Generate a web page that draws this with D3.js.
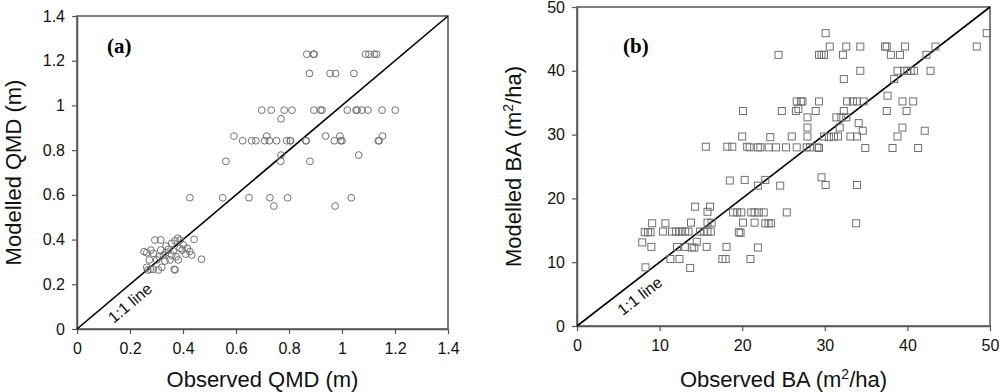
<!DOCTYPE html>
<html>
<head>
<meta charset="utf-8">
<script src="https://cdn.jsdelivr.net/npm/d3@7"></script>
<style>
  body { margin: 0; background: #fff; }
  text { font-family: "Liberation Sans", Arial, sans-serif; }
</style>
</head>
<body>
<div id="chart"></div>
<script>
// panel (a): observed vs modelled QMD (m)
const qmdTicks = [0, 0.2, 0.4, 0.6, 0.8, 1, 1.2, 1.4];
const qmdObserved = [
  0.867, 0.892, 0.895, 1.089, 1.102, 1.122, 1.131,
  0.877, 0.955, 0.976, 1.045,
  0.697, 0.733, 0.782, 0.811, 0.894, 0.919, 0.925, 1.02, 1.053, 1.057, 1.075, 1.098, 1.151, 1.201,
  0.770,
  0.592, 0.716, 0.938, 0.992, 1.153,
  0.625, 0.659, 0.675, 0.708, 0.726, 0.753, 0.791, 0.804, 0.806, 0.863, 0.865, 0.971, 0.995, 1.0, 1.137, 1.14,
  0.770, 1.063,
  0.562, 0.769, 0.879,
  0.426, 0.55, 0.649, 0.728, 0.795, 1.035,
  0.743, 0.974,
  0.263, 0.279, 0.273, 0.263, 0.267, 0.294, 0.316, 0.301, 0.316, 0.32, 0.326, 0.335, 0.351, 0.357,
  0.367, 0.363, 0.374, 0.382, 0.389, 0.397, 0.401, 0.41, 0.426, 0.433, 0.442, 0.47, 0.37, 0.345,
  0.336, 0.288, 0.311, 0.332, 0.288, 0.253, 0.389, 0.357, 0.416, 0.38, 0.277, 0.307, 0.37
];
const qmdModelled = [
  1.229, 1.229, 1.229, 1.229, 1.229, 1.229, 1.229,
  1.143, 1.143, 1.143, 1.143,
  0.979, 0.979, 0.979, 0.979, 0.979, 0.979, 0.979, 0.979, 0.979, 0.979, 0.979, 0.979, 0.979, 0.979,
  0.940,
  0.863, 0.863, 0.863, 0.863, 0.863,
  0.842, 0.842, 0.842, 0.842, 0.842, 0.842, 0.842, 0.842, 0.842, 0.842, 0.842, 0.842, 0.842, 0.842, 0.842, 0.842,
  0.778, 0.778,
  0.75, 0.75, 0.75,
  0.587, 0.587, 0.587, 0.587, 0.587, 0.587,
  0.55, 0.55,
  0.341, 0.353, 0.309, 0.276, 0.264, 0.398, 0.398, 0.309, 0.353, 0.276, 0.33, 0.341, 0.309, 0.383,
  0.267, 0.35, 0.323, 0.309, 0.398, 0.353, 0.376, 0.335, 0.346, 0.331, 0.401, 0.312, 0.395, 0.356,
  0.371, 0.338, 0.323, 0.304, 0.267, 0.346, 0.361, 0.33, 0.361, 0.406, 0.267, 0.264, 0.264
];

// panel (b): observed vs modelled BA (m2/ha)
const baTicks = [0, 10, 20, 30, 40, 50];
const baObserved = [
  30.1, 49.6,
  30.6, 32.6, 34.3, 37.3, 37.5, 39.7, 43.4, 48.4,
  24.4, 29.3, 29.6, 29.9, 32.2, 38.0, 39.1, 42.3,
  34.3, 38.8, 39.6, 40.0, 40.4, 40.8, 42.8,
  32.3, 38.4, 37.6,
  26.6, 27.1, 27.3, 29.3, 32.7, 33.4, 33.9, 34.7, 39.4, 40.7,
  20.1, 24.8, 26.5, 26.8, 28.9, 32.3, 37.5, 39.9,
  27.9, 31.4, 32.0, 32.6, 34.1, 27.9, 31.8, 34.6, 39.4, 42.1,
  20.0, 23.4, 26.0, 27.9, 29.9, 30.5, 31.1, 31.6, 33.1, 33.9, 38.8,
  15.6, 18.2, 18.8, 20.6, 20.9, 21.9, 22.2, 23.2, 24.1, 25.3, 26.6, 27.8, 28.2, 29.1, 29.3, 34.9, 38.2, 41.3,
  18.5, 20.3, 22.8, 29.6, 21.9, 24.6, 30.1, 33.9,
  14.3, 16.1,
  15.8, 18.9, 19.4, 19.9, 21.1, 21.5, 22.0, 22.6, 25.4,
  9.1, 10.7, 13.8, 15.8, 16.3, 20.1, 21.5, 22.8, 23.2, 23.5, 33.8,
  8.2, 8.6, 8.9, 10.4, 11.5, 12.0, 12.4, 12.7, 13.1, 13.5, 14.9, 15.4, 15.8, 16.2, 19.6, 19.8,
  7.9, 14.5,
  9.0, 12.1, 13.1, 13.9, 14.2, 15.7, 18.1, 21.9,
  11.3, 12.4, 17.6, 18.0, 21.0,
  8.3, 13.7
];
const baModelled = [
  45.9, 45.9,
  43.8, 43.8, 43.8, 43.8, 43.8, 43.8, 43.8, 43.8,
  42.5, 42.5, 42.5, 42.5, 42.5, 42.5, 42.5, 42.5,
  40.0, 40.0, 40.0, 40.0, 40.0, 40.0, 40.0,
  38.7, 38.7, 36.1,
  35.2, 35.2, 35.2, 35.2, 35.2, 35.2, 35.2, 35.2, 35.2, 35.2,
  33.7, 33.7, 33.7, 34.0, 33.7, 33.7, 33.7, 33.7,
  32.7, 32.7, 32.7, 32.7, 31.8, 31.1, 31.1, 30.6, 31.1, 30.6,
  29.7, 29.6, 29.7, 29.7, 29.7, 29.6, 29.7, 29.7, 29.7, 29.7, 29.7,
  28.1, 28.1, 28.1, 28.1, 28.0, 28.0, 28.0, 28.0, 28.0, 28.0, 28.0, 28.0, 28.0, 28.0, 27.9, 27.9, 27.9, 27.9,
  22.8, 22.9, 22.9, 23.3, 22.0, 22.0, 22.1, 22.1,
  18.7, 18.7,
  17.9, 17.8, 17.8, 17.8, 17.8, 17.8, 17.8, 17.8, 17.8,
  16.1, 16.1, 16.2, 16.2, 16.2, 16.2, 16.2, 16.1, 16.1, 16.1, 16.1,
  14.7, 14.7, 14.7, 14.8, 14.8, 14.8, 14.8, 14.8, 14.8, 14.8, 14.8, 14.8, 14.8, 14.8, 14.7, 14.6,
  13.1, 13.2,
  12.4, 12.4, 12.4, 12.3, 12.3, 12.4, 12.4, 12.3,
  10.5, 10.5, 10.5, 10.5, 10.5,
  9.2, 9.1
];

const width = 1000;
const height = 392;
const frameColor = "#555";
const markColor = "#707070";

const svg = d3.select("#chart")
  .append("svg")
  .attr("width", width)
  .attr("height", height);

// draws one panel: frame, axes, 1:1 line, points
function drawPanel(opts) {
  const x = d3.scaleLinear().domain(opts.domain).range([opts.left, opts.right]);
  const y = d3.scaleLinear().domain(opts.domain).range([opts.bottom, opts.top]);
  const g = svg.append("g");

  g.append("rect")
    .attr("x", opts.left)
    .attr("y", opts.top)
    .attr("width", opts.right - opts.left)
    .attr("height", opts.bottom - opts.top)
    .style("fill", "none")
    .style("stroke", frameColor)
    .style("stroke-width", 1.5);

  const xAxis = d3.axisBottom(x)
    .tickValues(opts.ticks)
    .tickFormat(d => String(d))
    .tickSizeInner(5)
    .tickSizeOuter(0)
    .tickPadding(9);
  const yAxis = d3.axisLeft(y)
    .tickValues(opts.ticks)
    .tickFormat(d => String(d))
    .tickSizeInner(5)
    .tickSizeOuter(0)
    .tickPadding(7);

  const gx = g.append("g")
    .attr("transform", "translate(0," + opts.bottom + ")")
    .call(xAxis);
  const gy = g.append("g")
    .attr("transform", "translate(" + opts.left + ",0)")
    .call(yAxis);

  [gx, gy].forEach(ax => {
    ax.select(".domain").style("stroke", frameColor).style("stroke-width", 1.5);
    ax.selectAll(".tick line").style("stroke", frameColor).style("stroke-width", 1.2);
    ax.selectAll(".tick text")
      .style("font-size", "16px")
      .style("fill", "#111")
      .style("font-family", "'Liberation Sans', Arial, sans-serif");
  });

  // 1:1 line
  g.append("line")
    .attr("x1", x(opts.domain[0]))
    .attr("y1", y(opts.domain[0]))
    .attr("x2", x(opts.domain[1]))
    .attr("y2", y(opts.domain[1]))
    .style("stroke", "#000")
    .style("stroke-width", 1.6);

  const angle = -Math.atan((opts.bottom - opts.top) / (opts.right - opts.left)) * 180 / Math.PI;
  g.append("text")
    .attr("transform", "translate(" + x(opts.labelAt[0]) + "," + y(opts.labelAt[1]) + ") rotate(" + angle + ")")
    .attr("text-anchor", "middle")
    .attr("dominant-baseline", "central")
    .style("font-size", "16px")
    .style("fill", "#111")
    .text("1:1 line");

  // points
  const pts = opts.xs.map((v, i) => [v, opts.ys[i]]);
  if (opts.shape == "circle") {
    g.selectAll("circle.pt")
      .data(pts)
      .enter()
      .append("circle")
      .attr("class", "pt")
      .attr("cx", d => x(d[0]))
      .attr("cy", d => y(d[1]))
      .attr("r", 3.4)
      .style("fill", "none")
      .style("stroke", markColor)
      .style("stroke-width", 1);
  } else {
    const s = 7;
    g.selectAll("rect.pt")
      .data(pts)
      .enter()
      .append("rect")
      .attr("class", "pt")
      .attr("x", d => x(d[0]) - s / 2)
      .attr("y", d => y(d[1]) - s / 2)
      .attr("width", s)
      .attr("height", s)
      .style("fill", "none")
      .style("stroke", markColor)
      .style("stroke-width", 1);
  }

  // panel letter
  g.append("text")
    .attr("x", opts.letterX)
    .attr("y", 53)
    .style("font-family", "'Liberation Serif', 'Times New Roman', serif")
    .style("font-weight", "bold")
    .style("font-size", "21px")
    .text(opts.letter);

  // axis titles
  const xt = g.append("text")
    .attr("x", (opts.left + opts.right) / 2)
    .attr("y", 387)
    .attr("text-anchor", "middle")
    .style("font-size", "22px")
    .style("fill", "#111");
  const yt = g.append("text")
    .attr("transform", "translate(" + opts.yTitleX + "," + (opts.top + opts.bottom) / 2 + ") rotate(-90)")
    .attr("text-anchor", "middle")
    .style("font-size", "22px")
    .style("fill", "#111");
  [[xt, opts.xTitle], [yt, opts.yTitle]].forEach(([t, parts]) => {
    parts.forEach(p => {
      if (p.sup) {
        t.append("tspan").attr("baseline-shift", "super").style("font-size", "14px").text(p.t);
      } else {
        t.append("tspan").text(p.t);
      }
    });
  });
}

drawPanel({
  left: 77, right: 448, top: 16, bottom: 329,
  domain: [0, 1.4], ticks: qmdTicks,
  xs: qmdObserved, ys: qmdModelled, shape: "circle",
  labelAt: [0.2, 0.116], letter: "(a)", letterX: 107, yTitleX: 21,
  xTitle: [{t: "Observed QMD (m)"}],
  yTitle: [{t: "Modelled QMD (m)"}]
});

drawPanel({
  left: 577, right: 990, top: 7, bottom: 326,
  domain: [0, 50], ticks: baTicks,
  xs: baObserved, ys: baModelled, shape: "square",
  labelAt: [7.6, 4.7], letter: "(b)", letterX: 623, yTitleX: 521,
  xTitle: [{t: "Observed BA (m"}, {t: "2", sup: true}, {t: "/ha)"}],
  yTitle: [{t: "Modelled BA (m"}, {t: "2", sup: true}, {t: "/ha)"}]
});
</script>
</body>
</html>
